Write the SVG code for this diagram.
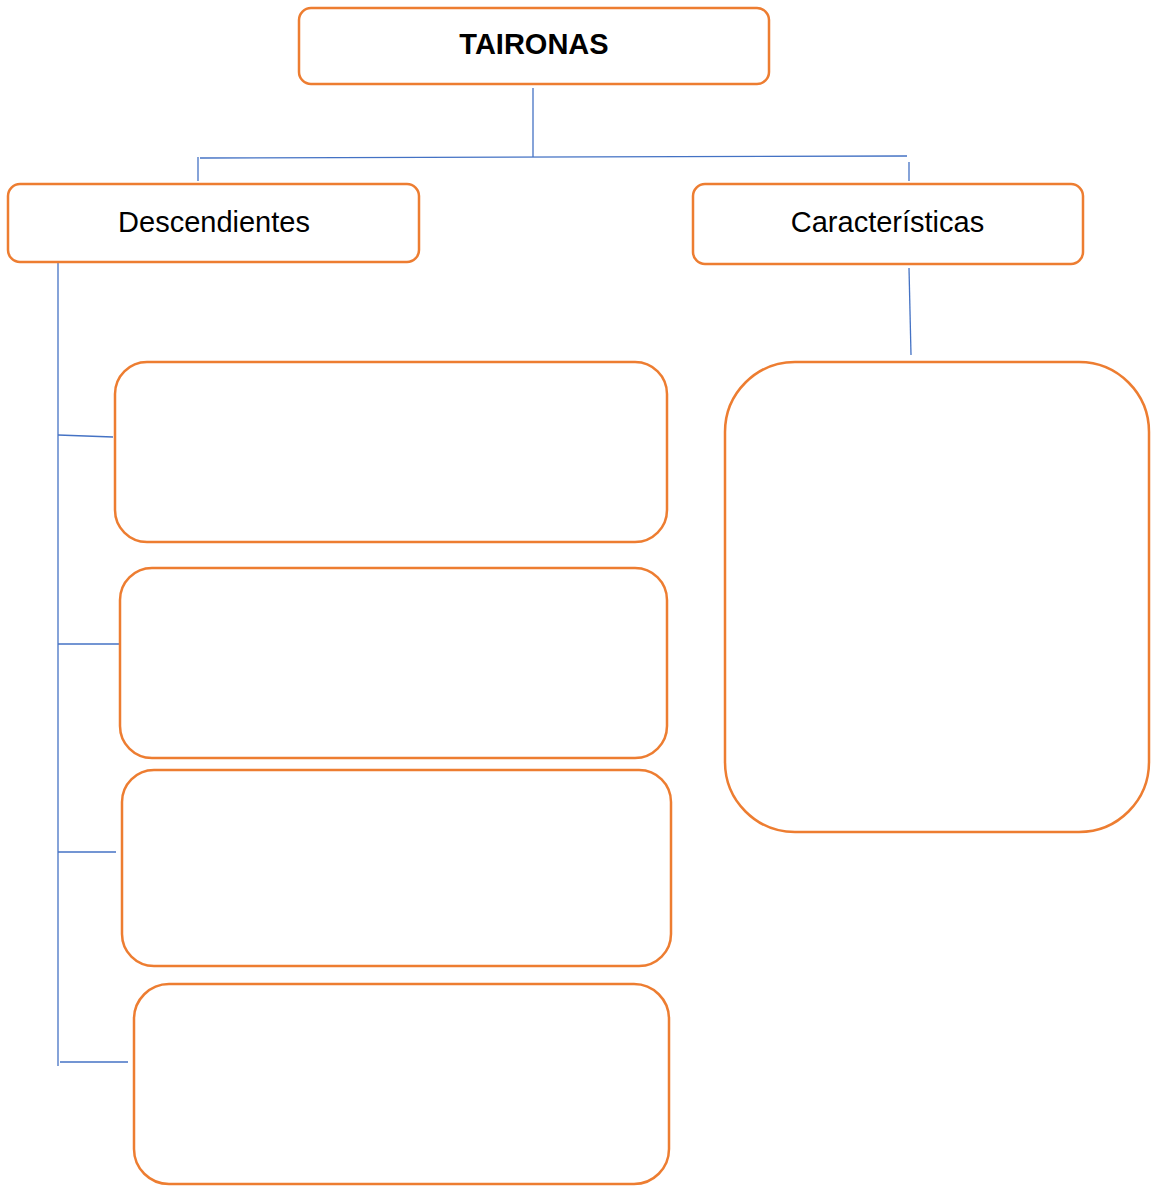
<svg xmlns="http://www.w3.org/2000/svg" width="1154" height="1186" viewBox="0 0 1154 1186">
<style>
.box{fill:#fff;stroke:#ED7D31;stroke-width:2.5}
.con line{stroke:#4472C4;stroke-width:1.3}
.t{font-family:"Liberation Sans",Arial,sans-serif;font-size:29px;fill:#000;text-anchor:middle}
.b{font-weight:bold}
</style>
<rect width="1154" height="1186" fill="#fff"/>
<g id="connectors" class="con">
<line x1="533" y1="88" x2="533" y2="157"/>
<line x1="200" y1="158" x2="907" y2="156"/>
<line x1="198" y1="157" x2="198" y2="181"/>
<line x1="909" y1="162" x2="909" y2="181"/>
<line x1="909" y1="268" x2="911" y2="355"/>
<line x1="58" y1="263" x2="58" y2="1066"/>
<line x1="58" y1="435" x2="113" y2="437"/>
<line x1="58" y1="644" x2="120" y2="644"/>
<line x1="58" y1="852" x2="116" y2="852"/>
<line x1="60" y1="1062" x2="128" y2="1062"/>
</g>
<g id="taironas">
<rect class="box" x="299" y="8" width="470" height="76" rx="12"/>
<text class="t b" x="534" y="54">TAIRONAS</text>
</g>
<g id="descendientes">
<rect class="box" x="8" y="184" width="411" height="78" rx="12"/>
<text class="t" x="214" y="232">Descendientes</text>
</g>
<g id="caracteristicas">
<rect class="box" x="693" y="184" width="390" height="80" rx="12"/>
<text class="t" x="887.5" y="232">Características</text>
</g>
<g id="box1"><rect class="box" x="115" y="362" width="552" height="180" rx="32"/></g>
<g id="box2"><rect class="box" x="120" y="568" width="547" height="190" rx="32"/></g>
<g id="box3"><rect class="box" x="122" y="770" width="549" height="196" rx="32"/></g>
<g id="box4"><rect class="box" x="134" y="984" width="535" height="200" rx="35"/></g>
<g id="box5"><rect class="box" x="725" y="362" width="424" height="470" rx="70"/></g>
</svg>
